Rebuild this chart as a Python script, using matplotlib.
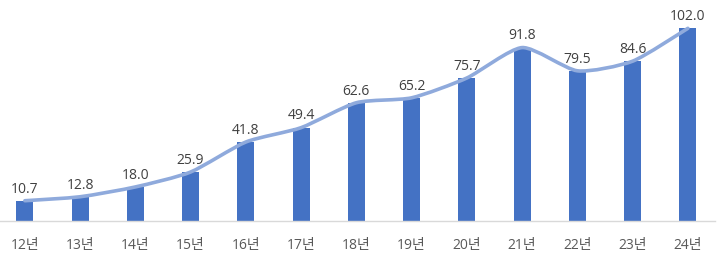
import matplotlib.pyplot as plt
import numpy as np
from matplotlib.path import Path
from matplotlib.patches import PathPatch

plt.rcParams['font.family'] = ['Open Sans', 'Noto Sans CJK KR', 'DejaVu Sans']

years = ['12년', '13년', '14년', '15년', '16년', '17년', '18년',
         '19년', '20년', '21년', '22년', '23년', '24년']
values = [10.7, 12.8, 18.0, 25.9, 41.8, 49.4, 62.6,
          65.2, 75.7, 91.8, 79.5, 84.6, 102.0]

x = np.arange(len(years))
y = np.array(values)

fig = plt.figure(figsize=(7.2, 2.56), dpi=100)
ax = fig.add_axes([0, 0.137, 0.993, 0.863])

ax.bar(x, y, width=0.31, color='#4472c4', zorder=2)

# geglaettete Linie (Bezier durch die Punkte, wie Excel)
verts = [(x[0], y[0])]
codes = [Path.MOVETO]
t = 0.11
for i in range(len(x) - 1):
    p0 = (x[i - 1], y[i - 1]) if i > 0 else (x[i], y[i])
    p1 = (x[i], y[i])
    p2 = (x[i + 1], y[i + 1])
    p3 = (x[i + 2], y[i + 2]) if i + 2 < len(x) else p2
    c1 = (p1[0] + (p2[0] - p0[0]) * t, p1[1] + (p2[1] - p0[1]) * t)
    c2 = (p2[0] - (p3[0] - p1[0]) * t, p2[1] - (p3[1] - p1[1]) * t)
    verts += [c1, c2, p2]
    codes += [Path.CURVE4] * 3
ax.add_patch(PathPatch(Path(verts, codes), facecolor='none',
                       edgecolor='#8faadc', linewidth=2.6, zorder=3,
                       capstyle='round', joinstyle='round'))

for xi, yi in zip(x, y):
    ax.annotate(f'{yi:.1f}', (xi, yi), xytext=(0, 3), textcoords='offset points',
                ha='center', va='bottom', fontsize=10, color='#404040', zorder=4)

ax.set_xlim(-0.45, 12.49)
ax.set_ylim(0, 117)
ax.set_xticks(x)
ax.set_xticklabels(years, fontsize=10, color='#595959')
ax.tick_params(axis='x', length=0, pad=12)
ax.set_yticks([])
for s in ['top', 'left', 'right']:
    ax.spines[s].set_visible(False)
ax.spines['bottom'].set_color('#d9d9d9')
ax.spines['bottom'].set_linewidth(1)

plt.savefig('out.png', dpi=100)
